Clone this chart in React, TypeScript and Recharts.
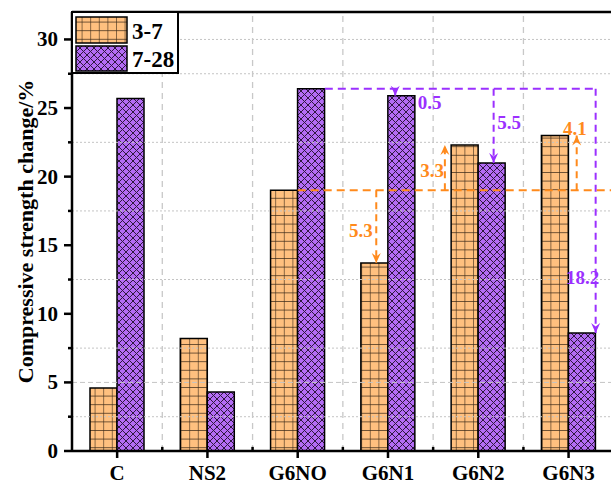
import React from "react";
import { BarChart, Bar, XAxis, YAxis, ReferenceLine, ReferenceDot } from "recharts";

const CATEGORIES = ["C", "NS2", "G6NO", "G6N1", "G6N2", "G6N3"];
const AGE_3_7 = [4.6, 8.2, 19.0, 13.7, 22.3, 23.0];
const AGE_7_28 = [25.7, 4.3, 26.4, 25.9, 21.0, 8.6];
const Y_TICKS = [0, 2.5, 5, 7.5, 10, 12.5, 15, 17.5, 20, 22.5, 25, 27.5, 30];
const Y_GRID = [2.5, 5, 7.5, 12.5, 17.5, 22.5, 27.5, 30];
const X_BOUNDS = [0.5, 1.5, 2.5, 3.5, 4.5];
const PURPLE_DIFFS = ["0.5", "5.5", "18.2"];
const ORANGE_DIFFS = ["5.3", "3.3", "4.1"];

const data = CATEGORIES.map((name, i) => ({ pos: i, name, a: AGE_3_7[i], b: AGE_7_28[i] }));

const FONT = "'Liberation Serif', 'Times New Roman', serif";
const ORANGE = "#ffc07f";
const PURPLE = "#b36cf4";
const ANN_PURPLE = "#9b30ff";
const ANN_ORANGE = "#ff8a1c";
const X_MIN = -0.5;
const X_MAX = 5.47;
const Y_MAX = 32;
const BW = 0.3; // bar width in category units

// annotation layout (offsets from category centre, label spots)
const PURPLE_ARROWS = [
  { i: 3, dx: 0.08, lx: 0.33, ly: 25.4, anchor: "start" },
  { i: 4, dx: 0.17, lx: 0.21, ly: 23.95, anchor: "start" },
  { i: 5, dx: BW, lx: 0.34, ly: 12.65, anchor: "end" },
];
const ORANGE_ARROWS = [
  { i: 3, dx: -0.13, lx: -0.17, ly: 16.07, anchor: "end" },
  { i: 4, dx: -0.37, lx: -0.38, ly: 20.45, anchor: "end" },
  { i: 5, dx: 0.09, lx: 0.07, ly: 23.5, anchor: "middle" },
];

const arrowHead = (color: string, down: boolean) => (props: any) => {
  const { cx, cy } = props;
  const s = down ? -1 : 1;
  return (
    <path
      d={`M${cx},${cy} L${cx - 4.5},${cy + s * 10} L${cx},${cy + s * 6.5} L${cx + 4.5},${cy + s * 10} Z`}
      fill={color}
    />
  );
};

const annText = (text: string, color: string, anchor: string) => (props: any) => (
  <text
    x={props.cx}
    y={props.cy}
    textAnchor={anchor as any}
    dominantBaseline="central"
    fontFamily={FONT}
    fontWeight="bold"
    fontSize={19}
    fill={color}
  >
    {text}
  </text>
);

const XTick = ({ x, y, payload }: any) => (
  <g>
    <line x1={x} x2={x} y1={y} y2={y + 7} stroke="#000" strokeWidth={2.5} />
    <text
      x={x}
      y={y + 22}
      textAnchor="middle"
      dominantBaseline="central"
      fontFamily={FONT}
      fontWeight="bold"
      fontSize={21}
      fill="#000"
    >
      {CATEGORIES[payload.value]}
    </text>
  </g>
);

const YTick = ({ x, y, payload }: any) => {
  const major = payload.value % 5 === 0;
  return (
    <g>
      <line x1={x - (major ? 8 : 4)} x2={x} y1={y} y2={y} stroke="#000" strokeWidth={2.5} />
      {major && (
        <text
          x={x - 14}
          y={y}
          textAnchor="end"
          dominantBaseline="central"
          fontFamily={FONT}
          fontWeight="bold"
          fontSize={21}
          fill="#000"
        >
          {payload.value}
        </text>
      )}
    </g>
  );
};

const YTitle = (props: any) => {
  const vb = props.viewBox || { x: 0, y: 12, width: 72, height: 439 };
  const cx = vb.x + 33;
  const cy = vb.y + vb.height / 2;
  return (
    <text
      x={cx}
      y={cy}
      transform={`rotate(-90 ${cx} ${cy})`}
      textAnchor="middle"
      fontFamily={FONT}
      fontWeight="bold"
      fontSize={22}
      fill="#000"
    >
      Compressive strength change/%
    </text>
  );
};

const Patterns = ({ p }: { p: string }) => (
  <defs>
    <pattern id={`${p}grid`} width={8.6} height={8.6} patternUnits="userSpaceOnUse">
      <rect width={8.6} height={8.6} fill={ORANGE} />
      <path d="M0,0 H8.6 M0,0 V8.6" stroke="#3b2a18" strokeWidth={1.2} />
    </pattern>
    <pattern id={`${p}hatch`} width={7} height={7} patternUnits="userSpaceOnUse">
      <rect width={7} height={7} fill={PURPLE} />
      <path d="M0,0 L7,7 M7,0 L0,7" stroke="#2e1840" strokeWidth={1} />
    </pattern>
  </defs>
);

const LegendBox = () => (
  <div
    style={{
      position: "absolute",
      left: 71,
      top: 11,
      width: 104,
      height: 59,
      border: "2px solid #000",
      background: "#fff",
      fontFamily: FONT,
      fontWeight: "bold",
      fontSize: 23,
    }}
  >
    <svg width={104} height={59} style={{ position: "absolute", left: 0, top: 0 }}>
      <Patterns p="lg" />
      <rect x={3} y={4} width={51} height={26} fill="url(#lggrid)" stroke="#000" strokeWidth={1.5} />
      <rect x={3} y={33} width={51} height={25} fill="url(#lghatch)" stroke="#000" strokeWidth={1.5} />
      <text x={59} y={18} dominantBaseline="central" fontFamily={FONT} fontWeight="bold" fontSize={23}>
        3-7
      </text>
      <text x={59} y={46} dominantBaseline="central" fontFamily={FONT} fontWeight="bold" fontSize={23}>
        7-28
      </text>
    </svg>
  </div>
);

export default function App() {
  const pBase = AGE_7_28[2];
  const oBase = AGE_3_7[2];
  return (
    <div style={{ position: "absolute", left: 0, top: 0, width: 611, height: 484, background: "#fff" }}>
      <BarChart
        width={611}
        height={484}
        data={data}
        margin={{ top: 12, right: 0, bottom: 0, left: 0 }}
        barGap={0}
      >
        <Patterns p="ch" />
        <XAxis
          dataKey="pos"
          type="number"
          domain={[X_MIN, X_MAX]}
          allowDataOverflow
          ticks={[0, 1, 2, 3, 4, 5]}
          interval={0}
          height={33}
          tickSize={0}
          tickMargin={0}
          tick={<XTick />}
          axisLine={{ stroke: "#000", strokeWidth: 2.5 }}
        />
        <YAxis
          type="number"
          domain={[0, Y_MAX]}
          allowDataOverflow
          ticks={Y_TICKS}
          interval={0}
          width={72}
          tickSize={0}
          tickMargin={0}
          tick={<YTick />}
          axisLine={{ stroke: "#000", strokeWidth: 2.5 }}
          label={{ content: YTitle }}
        />
        {Y_GRID.map((v) => (
          <ReferenceLine
            key={`h${v}`}
            y={v}
            stroke="#c4c4c4"
            strokeWidth={1}
            strokeDasharray={v === 5 ? "5 3" : "2 2"}
            ifOverflow="visible"
          />
        ))}
        {X_BOUNDS.map((v) => (
          <ReferenceLine key={`v${v}`} x={v} stroke="#c8c8c8" strokeWidth={1.3} strokeDasharray="6 5" />
        ))}
        <ReferenceLine y={Y_MAX} stroke="#000" strokeWidth={2.5} ifOverflow="visible" />
        <Bar dataKey="a" name="3-7" barSize={27} fill="url(#chgrid)" stroke="#000" strokeWidth={1.5} isAnimationActive={false} />
        <Bar dataKey="b" name="7-28" barSize={27} fill="url(#chhatch)" stroke="#000" strokeWidth={1.5} isAnimationActive={false} />
        {X_BOUNDS.map((v) => (
          <ReferenceLine
            key={`m${v}`}
            segment={[{ x: v, y: 0 }, { x: v, y: 0.3 }]}
            stroke="#000"
            strokeWidth={2.5}
          />
        ))}
        {/* purple: 7-28 change relative to G6NO */}
        <ReferenceLine
          segment={[{ x: 2 + BW, y: pBase }, { x: 5 + BW, y: pBase }]}
          stroke={ANN_PURPLE}
          strokeWidth={2}
          strokeDasharray="8 5"
        />
        {PURPLE_ARROWS.map((a) => (
          <ReferenceLine
            key={`pa${a.i}`}
            segment={[{ x: a.i + a.dx, y: pBase }, { x: a.i + a.dx, y: AGE_7_28[a.i] }]}
            stroke={ANN_PURPLE}
            strokeWidth={2}
            strokeDasharray="7 5"
          />
        ))}
        {PURPLE_ARROWS.map((a) => (
          <ReferenceDot
            key={`ph${a.i}`}
            x={a.i + a.dx}
            y={AGE_7_28[a.i]}
            r={0}
            shape={arrowHead(ANN_PURPLE, true)}
          />
        ))}
        {PURPLE_ARROWS.map((a, k) => (
          <ReferenceDot
            key={`pt${a.i}`}
            x={a.i + a.lx}
            y={a.ly}
            r={0}
            shape={annText(PURPLE_DIFFS[k], ANN_PURPLE, a.anchor)}
          />
        ))}
        {/* orange: 3-7 change relative to G6NO */}
        <ReferenceLine
          segment={[{ x: 2, y: oBase }, { x: X_MAX, y: oBase }]}
          stroke={ANN_ORANGE}
          strokeWidth={2}
          strokeDasharray="8 5"
        />
        {ORANGE_ARROWS.map((a) => (
          <ReferenceLine
            key={`oa${a.i}`}
            segment={[{ x: a.i + a.dx, y: oBase }, { x: a.i + a.dx, y: AGE_3_7[a.i] }]}
            stroke={ANN_ORANGE}
            strokeWidth={2}
            strokeDasharray="7 5"
          />
        ))}
        {ORANGE_ARROWS.map((a) => (
          <ReferenceDot
            key={`oh${a.i}`}
            x={a.i + a.dx}
            y={AGE_3_7[a.i]}
            r={0}
            shape={arrowHead(ANN_ORANGE, AGE_3_7[a.i] < oBase)}
          />
        ))}
        {ORANGE_ARROWS.map((a, k) => (
          <ReferenceDot
            key={`ot${a.i}`}
            x={a.i + a.lx}
            y={a.ly}
            r={0}
            shape={annText(ORANGE_DIFFS[k], ANN_ORANGE, a.anchor)}
          />
        ))}
      </BarChart>
      <LegendBox />
    </div>
  );
}
